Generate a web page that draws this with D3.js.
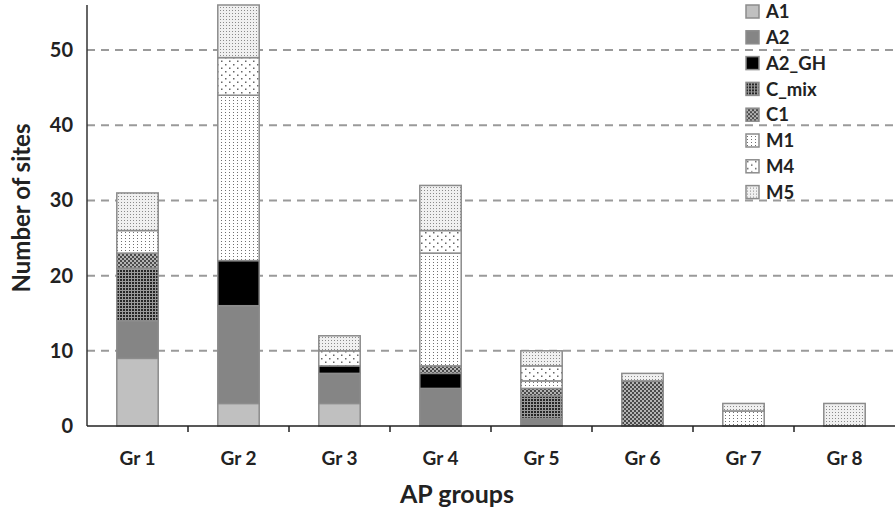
<!DOCTYPE html>
<html><head><meta charset="utf-8">
<script src="https://cdn.jsdelivr.net/npm/d3@7"></script>
<style>body{margin:0;background:#fff}svg{display:block}text{font-family:Lato,"Open Sans",sans-serif;font-weight:700;fill:#222}</style>
</head><body><svg id="c" width="896" height="516"></svg>
<script>
const groups = ["Gr 1","Gr 2","Gr 3","Gr 4","Gr 5","Gr 6","Gr 7","Gr 8"];
const seriesNames = ["A1","A2","A2_GH","C_mix","C1","M1","M4","M5"];
const A1    = [9, 3, 3, 0, 0, 0, 0, 0];
const A2    = [5, 13, 4, 5, 1, 0, 0, 0];
const A2_GH = [0, 6, 1, 2, 0, 0, 0, 0];
const C_mix = [7, 0, 0, 0, 3, 0, 0, 0];
const C1    = [2, 0, 0, 1, 1, 6, 0, 0];
const M1    = [3, 22, 0, 15, 1, 0, 2, 0];
const M4    = [0, 5, 2, 3, 2, 0, 0, 0];
const M5    = [5, 7, 2, 6, 2, 1, 1, 3];
const yTicks = [0, 10, 20, 30, 40, 50];

const seriesValues = {A1, A2, A2_GH, C_mix, C1, M1, M4, M5};
const rows = groups.map((g, i) => {
  const r = {group: g};
  seriesNames.forEach(s => r[s] = seriesValues[s][i]);
  return r;
});

const svg = d3.select("#c");
const defs = svg.append("defs");
function pat(id, w, h, build) {
  const p = defs.append("pattern").attr("id", id).attr("patternUnits", "userSpaceOnUse")
    .attr("width", w).attr("height", h);
  build(p);
}
pat("p-cmix", 3, 3, p => {
  p.append("rect").attr("width", 3).attr("height", 3).attr("fill", "#9a9a9a");
  p.append("rect").attr("width", 2).attr("height", 2).attr("fill", "#262626");
});
pat("p-c1", 4, 4, p => {
  p.append("rect").attr("width", 4).attr("height", 4).attr("fill", "#b4b4b4");
  p.append("rect").attr("width", 2).attr("height", 2).attr("fill", "#4a4a4a");
  p.append("rect").attr("x", 2).attr("y", 2).attr("width", 2).attr("height", 2).attr("fill", "#4a4a4a");
});
pat("p-m1", 4, 3, p => {
  p.append("rect").attr("width", 4).attr("height", 3).attr("fill", "#fff");
  p.append("rect").attr("x", 1).attr("y", 1).attr("width", 1).attr("height", 1).attr("fill", "#707070");
});
pat("p-m4", 8, 7, p => {
  p.append("rect").attr("width", 8).attr("height", 7).attr("fill", "#fff");
  p.append("rect").attr("x", 1).attr("y", 1).attr("width", 1.5).attr("height", 1.5).attr("fill", "#666");
  p.append("rect").attr("x", 5).attr("y", 4.5).attr("width", 1.5).attr("height", 1.5).attr("fill", "#666");
});
pat("p-m5", 3, 3, p => {
  p.append("rect").attr("width", 3).attr("height", 3).attr("fill", "#f0f0f0");
  p.append("rect").attr("x", 1).attr("y", 1).attr("width", 1).attr("height", 1).attr("fill", "#8a8a8a");
});
const fills = {A1: "#c0c0c0", A2: "#858585", A2_GH: "#000", C_mix: "url(#p-cmix)", C1: "url(#p-c1)",
  M1: "url(#p-m1)", M4: "url(#p-m4)", M5: "url(#p-m5)"};

const x = d3.scaleBand().domain(groups).range([87, 895]).paddingInner(0.59).paddingOuter(0.295);
const y = d3.scaleLinear().domain([0, 56]).range([426, 5]);

// gridlines
svg.append("g").selectAll("line").data(yTicks.filter(d => d > 0)).join("line")
  .attr("x1", 87).attr("x2", 896).attr("y1", d => y(d)).attr("y2", d => y(d))
  .attr("stroke", "#9a9a9a").attr("stroke-width", 2).attr("stroke-dasharray", "8,6");

// bars
const stack = d3.stack().keys(seriesNames)(rows);
svg.append("g").selectAll("g").data(stack).join("g")
  .attr("fill", d => fills[d.key])
  .selectAll("rect").data(d => d.filter(s => s[1] - s[0] > 0)).join("rect")
  .attr("x", d => x(d.data.group)).attr("width", x.bandwidth())
  .attr("y", d => y(d[1])).attr("height", d => y(d[0]) - y(d[1]))
  .attr("stroke", "#8c8c8c").attr("stroke-width", 1.5);

// y axis
const ya = svg.append("g").attr("transform", "translate(87,0)")
  .call(d3.axisLeft(y).tickValues(yTicks).tickSize(0).tickPadding(14));
ya.select(".domain").attr("d", `M0,${y(56)}V${y(0)}`).attr("stroke", "#333").attr("stroke-width", 1.5);
ya.selectAll("text").style("font-size", "20px").attr("fill", "#222");

// x axis
const xa = svg.append("g").attr("transform", `translate(0,${y(0)})`)
  .call(d3.axisBottom(x).tickSize(0).tickPadding(26));
xa.select(".domain").attr("d", "M87,0H895").attr("stroke", "#222").attr("stroke-width", 1.5);
xa.selectAll("text").style("font-size", "19px").attr("fill", "#222");
svg.append("g").selectAll("line").data(groups.slice(1)).join("line")
  .attr("x1", d => x(d) - x.step() * x.paddingInner() / 2).attr("x2", d => x(d) - x.step() * x.paddingInner() / 2)
  .attr("y1", y(0)).attr("y2", y(0) + 6).attr("stroke", "#222").attr("stroke-width", 1.5);

// axis titles
svg.append("text").attr("x", 457).attr("y", 503).attr("text-anchor", "middle")
  .style("font-size", "25px").text("AP groups");
svg.append("text").attr("transform", "translate(30,208) rotate(-90)").attr("text-anchor", "middle")
  .style("font-size", "24px").text("Number of sites");

// legend
const lg = svg.append("g").selectAll("g").data(seriesNames).join("g")
  .attr("transform", (d, i) => `translate(746,${12 + i * 25.8})`);
lg.append("rect").attr("x", 0).attr("y", -7).attr("width", 13).attr("height", 13)
  .attr("fill", d => fills[d]).attr("stroke", "#8c8c8c").attr("stroke-width", 1.5);
lg.append("text").attr("x", 20).attr("y", 0).attr("dy", "0.34em").style("font-size", "18.5px").text(d => d);
</script></body></html>
